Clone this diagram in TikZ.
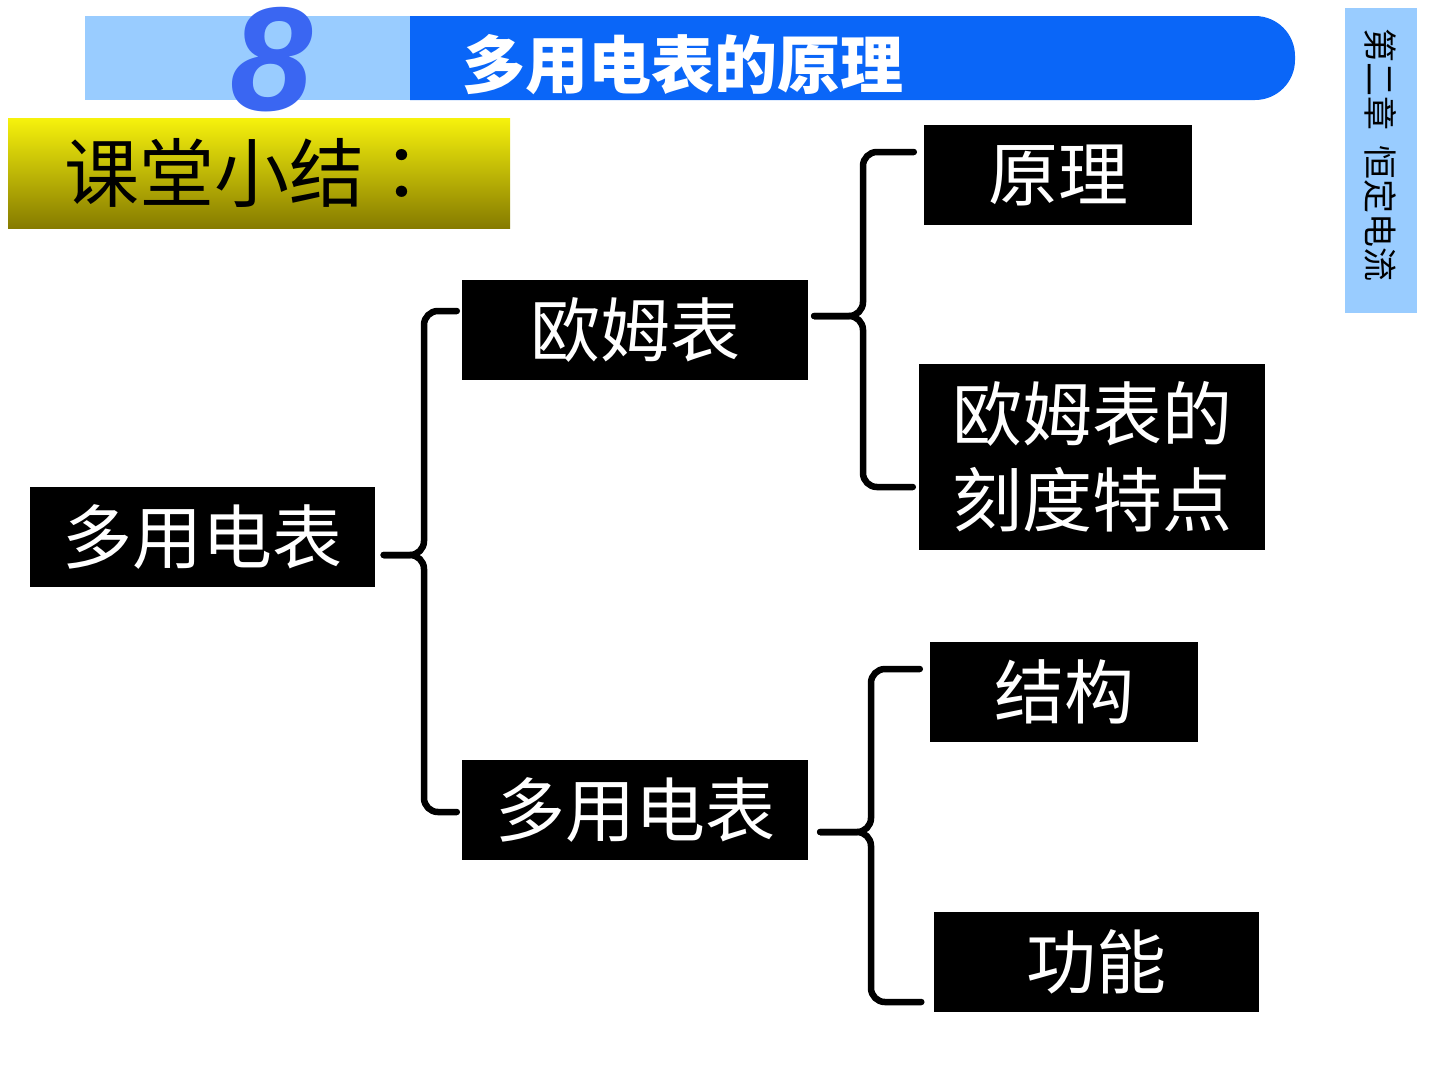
\documentclass[tikz,border=0pt]{standalone}
\usepackage{fontspec}
\setmainfont{Liberation Sans}
\newfontfamily\cjk{Noto Sans CJK SC}
\newfontfamily\cjktc{Noto Sans CJK TC}
\usetikzlibrary{positioning}
\definecolor{SumBlue}{HTML}{0A66F8}
\definecolor{SumSky}{HTML}{99CCFF}
\definecolor{SumEight}{HTML}{3A66F2}
\definecolor{SumYellow}{HTML}{F6F20C}
\definecolor{SumOlive}{HTML}{867B00}
\tikzset{
  sumbox/.style={
    fill=black,
    text=white,
    inner sep=0pt,
    align=center,
    minimum height=100pt,
    font=\cjk\fontsize{70}{86}\selectfont
  },
  sumbrace/.style={draw=black,line width=6.5pt,line cap=round,rounded corners=14pt},
  sumbar/.style={fill=SumSky}
}

\begin{document}
\begin{tikzpicture}[x=1pt,y=-1pt]
  \useasboundingbox (0,0) rectangle (1440,1080);
  % header
  \fill[sumbar] (85,16) rectangle (410,100);
  \fill[SumBlue] (410,16) [rounded corners=40pt] -- (1295,16) -- (1295,100) [sharp corners] -- (410,100) -- cycle;
  \node[inner sep=0pt,font=\bfseries\itshape\fontsize{148}{148}\selectfont,text=SumEight] (num) at (272,60) {8};
  \node[font=\cjk\bfseries\fontsize{63}{63}\selectfont,text=white] (head) at (683,65) {多用电表的原理};
  \fill[sumbar] (1345,8) rectangle (1417,313);
  \node[rotate=-90,font=\cjk\fontsize{34}{34}\selectfont] (chap) at (1381,155) {第二章\hspace{16pt}恒定电流};
  \fill[top color=SumYellow,bottom color=SumOlive] (8,118) rectangle (510,228);
  \node[font=\cjk\fontsize{75}{75}\selectfont] (summary) at (252,173) {课堂小结{\cjktc ：}};

  % boxes
  \node[sumbox,minimum width=345pt] (root) at (202,537) {多用电表};
  \node[sumbox,minimum width=346pt] (ohm) at (635,330) {欧姆表};
  \node[sumbox,minimum width=346pt] (multi) at (635,810) {多用电表};
  \node[sumbox,minimum width=268pt] (prin) at (1058,175) {原理};
  \node[sumbox,minimum width=346pt,minimum height=186pt] (scale) at (1092,457) {欧姆表的\\刻度特点};
  \node[sumbox,minimum width=268pt] (struct) at (1064,692) {结构};
  \node[sumbox,minimum width=325pt] (func) at (1096,962) {功能};

  % braces
  \coordinate (tipA) at (424,555);
  \coordinate (tipB) at (863,316);
  \coordinate (tipC) at (871,832);
  \draw[sumbrace] ([xshift=9pt]root.east |- tipA) -- (tipA) |- ([xshift=-5pt]ohm.west |- 0,311);
  \draw[sumbrace] ([xshift=9pt]root.east |- tipA) -- (tipA) |- ([xshift=-5pt]multi.west |- 0,812);
  \draw[sumbrace] ([xshift=6pt]ohm.east |- tipB) -- (tipB) |- ([xshift=-10pt]prin.west |- 0,152);
  \draw[sumbrace] ([xshift=6pt]ohm.east |- tipB) -- (tipB) |- ([xshift=-6pt]scale.west |- 0,487);
  \draw[sumbrace] ([xshift=12pt]multi.east |- tipC) -- (tipC) |- ([xshift=-10pt]struct.west |- 0,669);
  \draw[sumbrace] ([xshift=12pt]multi.east |- tipC) -- (tipC) |- ([xshift=-12pt]func.west |- 0,1002);
\end{tikzpicture}
\end{document}
